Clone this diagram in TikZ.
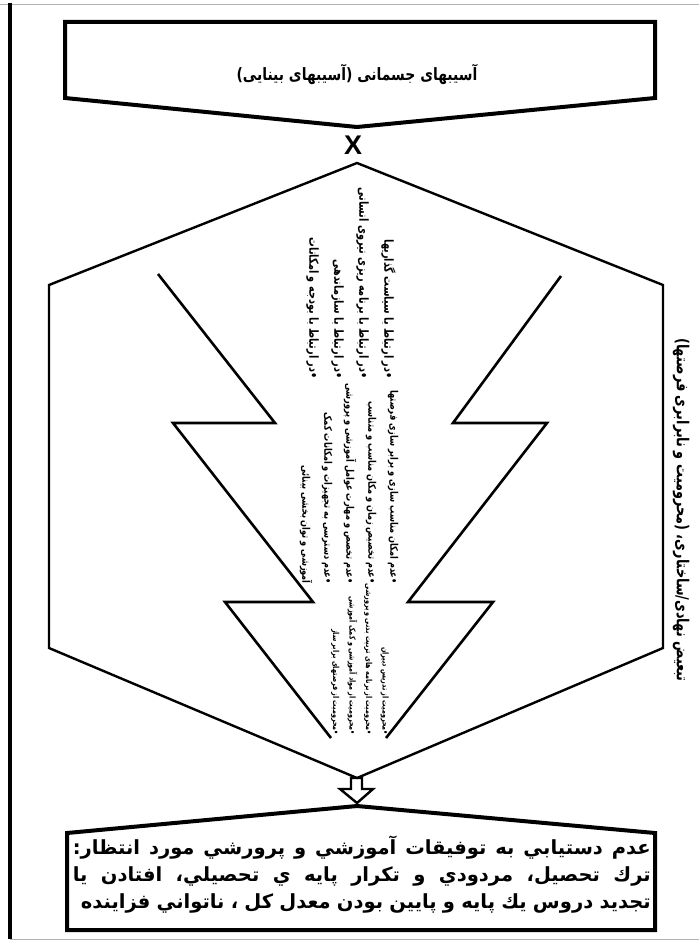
\documentclass[tikz,border=0pt]{standalone}
\usepackage{fontspec}
\usepackage{tikz}
\setmainfont{Liberation Sans}
\TeXXeTstate=1
\newfontfamily\arabicfont[Script=Arabic]{DejaVu Sans}
\newfontfamily\arabictitle[Script=Arabic,FakeStretch=0.82]{DejaVu Sans}
\newfontfamily\arabicnarrow[Script=Arabic,FakeStretch=0.78]{DejaVu Sans}

\begin{document}
\begin{tikzpicture}[x=1pt,y=-1pt,
  frame/.style={line width=4pt,line join=miter},
  hexline/.style={line width=2.4pt,line join=miter},
  bolt/.style={line width=2.6pt,line join=miter},
  list/.style={rotate=-90,anchor=east,align=right,inner sep=0pt,font=\arabicnarrow\bfseries}]
  \useasboundingbox (0,0) rectangle (699,942);
  % page edges
  \draw[gray!60,line width=1pt] (0,5)--(699,5);
  \draw[gray!60,line width=1pt] (10,939)--(699,939);
  \draw[line width=4pt] (10,3)--(10,939);
  % top box
  \draw[frame] (65,22)--(655,22)--(655,98)--(357,127)--(65,98)--cycle;
  \node[font=\arabictitle\bfseries\fontsize{17}{19}\selectfont] (title) at (357,74)
    {\beginR آسیبهای جسمانی (آسیبهای بینایی)\endR};
  \node[font=\bfseries\fontsize{27}{27}\selectfont,inner sep=0pt] (cross) at (353,145) {X};
  % hexagon
  \draw[hexline] (357,163)--(663,285)--(663,648)--(357,778)--(49,648)--(49,285)--cycle;
  % bolt arrow
  \draw[bolt] (158,274)--(275,423)--(173,423)--(313,602)--(225,602)--(331,738);
  \draw[bolt] (561,276)--(453,423)--(547,423)--(408,602)--(493,602)--(386,738);
  \node[list,font=\arabicnarrow\bfseries\fontsize{12.5}{25}\selectfont] (polA) at (351,379)
    {\beginR •در ارتباط با سیاست گذاریها\endR\\
     \beginR •در ارتباط با برنامه ریزی نیروی انسانی\endR\\
     \beginR •در ارتباط با سازماندهی\endR\\
     \beginR •در ارتباط با بودجه و امکانات\endR};
  \node[list,font=\arabicnarrow\bfseries\fontsize{10.5}{22}\selectfont] (polB) at (349,584)
    {\beginR •عدم امکان مناسب سازی و برابر سازی فرصتها\endR\\
     \beginR •عدم تخصیص زمان و مکان مناسب و متناسب\endR\\
     \beginR •عدم تخصص و مهارت عوامل آموزشی و پرورشی\endR\\
     \beginR •عدم دسترسی به تجهیزات و امکانات کمک\endR\\
     \beginR آموزشی و توان بخشی بینائی\endR};
  \node[list,font=\arabicnarrow\bfseries\fontsize{8.2}{16.5}\selectfont] (polC) at (360,735)
    {\beginR •محرومیت از تدریس دبیران\endR\\
     \beginR •محرومیت از برنامه های تربیت بدنی و پرورشی\endR\\
     \beginR •محرومیت از مواد آموزشی و کمک آموزشی\endR\\
     \beginR •محرومیت از فرصتهای برابر ساز\endR};
  \node[list,font=\arabicnarrow\bfseries\fontsize{16.5}{18}\selectfont] (side) at (681,682)
    {\beginR تبعیض نهادی/ساختاری، (محرومیت و نابرابری فرصتها)\endR};
  % down arrow
  \draw[line width=2.4pt,line join=miter] (351,778)--(362,778)--(362,789)--(373,789)--(357,803)--(340,789)--(351,789)--cycle;
  % bottom box
  \draw[frame] (357,806)--(655,833)--(655,930)--(67,930)--(67,833)--cycle;
  \node[anchor=north east,align=right,inner sep=0pt,font=\arabicfont\bfseries\fontsize{19.5}{27}\selectfont] (result) at (651,836)
    {\hbox to 578pt{\beginR عدم دستيابي به توفيقات آموزشي و پرورشي مورد انتظار:\endR}\\
     \hbox to 578pt{\beginR ترك تحصيل، مردودي و تكرار پايه ي تحصيلي، افتادن يا\endR}\\
     \hbox to 570pt{\beginR تجديد دروس يك پايه و پايين بودن معدل كل ، ناتواني فزاينده\endR}};
\end{tikzpicture}
\end{document}
